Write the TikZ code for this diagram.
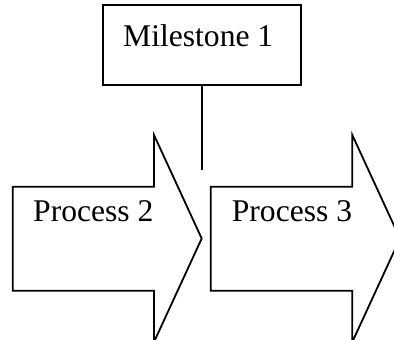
\documentclass[tikz,border=0pt]{standalone}
\usepackage{fontspec}
\setmainfont{Liberation Serif}
\begin{document}
\begin{tikzpicture}[x=1pt,y=-1pt,
  outline/.style={draw=black,line width=1.8pt,line join=miter},
  lbl/.style={font=\fontsize{31.6}{36}\selectfont,inner sep=0pt,anchor=base west}]
  \useasboundingbox (0,0) rectangle (394,340);
  \clip (0,0) rectangle (394,340);
  % milestone box and its stem
  \node[outline,minimum width=198pt,minimum height=80pt,inner sep=0pt] (ms) at (202,45) {};
  \node[lbl] (mslabel) at (123,46.7) {Milestone 1};
  \coordinate (stem) at (202,170);
  \draw[outline] (ms.south) -- (stem);
  % process arrows
  \draw[outline] (12.7,186.7) -- (154,186.7) -- (154,135) -- (201.7,238.5)
    -- (154,342) -- (154,290.7) -- (12.7,290.7) -- cycle;
  \draw[outline] (210.7,186.7) -- (352.3,186.7) -- (352.3,135) -- (400,238.5)
    -- (352.3,342) -- (352.3,290.7) -- (210.7,290.7) -- cycle;
  \node[lbl] (p2) at (33,221.7) {Process 2};
  \node[lbl] (p3) at (231.7,221.7) {Process 3};
\end{tikzpicture}
\end{document}
